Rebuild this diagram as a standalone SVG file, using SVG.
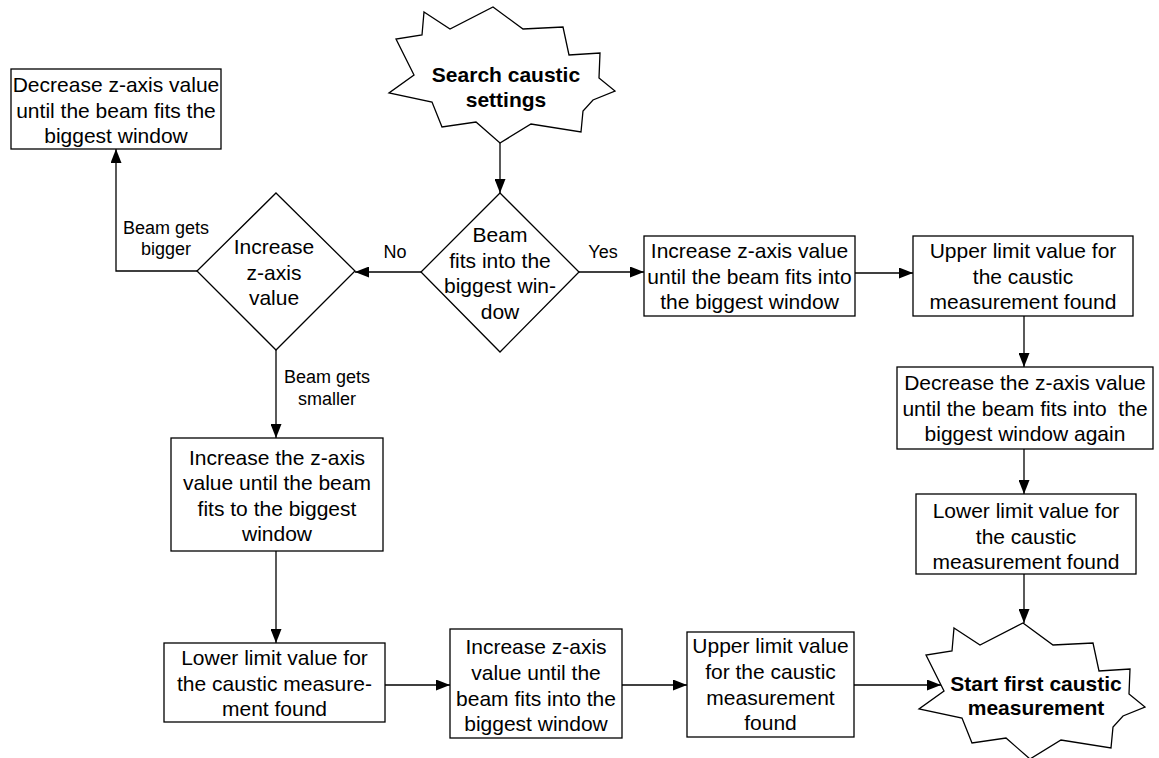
<svg xmlns="http://www.w3.org/2000/svg" xmlns:xlink="http://www.w3.org/1999/xlink" width="1159" height="758" viewBox="0 0 1159 758">
<style>
.box{fill:#fff;stroke:#000;stroke-width:1.3}
.t{font-family:"Liberation Sans",Arial,sans-serif;font-size:21px;fill:#000;text-anchor:middle}
.b{font-weight:bold}
.lbl{font-family:"Liberation Sans",Arial,sans-serif;font-size:18px;fill:#000;text-anchor:middle}
.c{fill:none;stroke:#000;stroke-width:1.3}
</style>
<defs>
<marker id="ah" markerUnits="userSpaceOnUse" markerWidth="14" markerHeight="11" refX="14" refY="5.5" orient="auto">
<path d="M0,0 L14,5.5 L0,11 z" fill="#000"/>
</marker>
<polygon id="star" points="424,12 450,29 493,7 523,29 563,27 569,55 600,53 599,78 615,91 593,100 583,111 581,132 531,124 500,143 476,122 442,127 432,102 389,93 414,75 396,39 422,35"/>
</defs>
<rect width="1159" height="758" fill="#fff"/>

<g id="connectors">
<path class="c" d="M500,143 V193" marker-end="url(#ah)"/>
<path class="c" d="M579,272 H644" marker-end="url(#ah)"/>
<path class="c" d="M855,273 H913" marker-end="url(#ah)"/>
<path class="c" d="M421,272 H355" marker-end="url(#ah)"/>
<path class="c" d="M197,271 H116 V149" marker-end="url(#ah)"/>
<path class="c" d="M276,350 V438" marker-end="url(#ah)"/>
<path class="c" d="M276,551 V643" marker-end="url(#ah)"/>
<path class="c" d="M385,685 H450" marker-end="url(#ah)"/>
<path class="c" d="M622,685 H687" marker-end="url(#ah)"/>
<path class="c" d="M854,685 H941" marker-end="url(#ah)"/>
<path class="c" d="M1024,316 V367" marker-end="url(#ah)"/>
<path class="c" d="M1024,449 V494" marker-end="url(#ah)"/>
<path class="c" d="M1024,574 V623" marker-end="url(#ah)"/>
<text class="lbl" x="395" y="258">No</text>
<text class="lbl" x="603" y="258">Yes</text>
<text class="lbl" x="166" y="234">Beam gets</text>
<text class="lbl" x="166" y="255">bigger</text>
<text class="lbl" x="327" y="383">Beam gets</text>
<text class="lbl" x="327" y="405">smaller</text>
</g>

<g id="start-search">
<use xlink:href="#star" class="box"/>
<text class="t b" x="506" y="82">Search caustic</text>
<text class="t b" x="506" y="107">settings</text>
</g>

<g id="decision-fits">
<polygon class="box" points="500,193 579,272 500,352 421,272"/>
<text class="t" x="500" y="242">Beam</text>
<text class="t" x="500" y="267.5">fits into the</text>
<text class="t" x="500" y="293">biggest win-</text>
<text class="t" x="500" y="318.5">dow</text>
</g>

<g id="decision-increase">
<polygon class="box" points="276,193 355,271 276,350 197,271"/>
<text class="t" x="274" y="254">Increase</text>
<text class="t" x="274" y="280">z-axis</text>
<text class="t" x="274" y="305">value</text>
</g>

<g id="decrease-top">
<rect class="box" x="11" y="69" width="210" height="80"/>
<text class="t" x="116" y="92">Decrease z-axis value</text>
<text class="t" x="116" y="117.5">until the beam fits the</text>
<text class="t" x="116" y="143">biggest window</text>
</g>

<g id="increase-right">
<rect class="box" x="644" y="236" width="211" height="80"/>
<text class="t" x="749.5" y="258">Increase z-axis value</text>
<text class="t" x="749.5" y="283.5">until the beam fits into</text>
<text class="t" x="749.5" y="309">the biggest window</text>
</g>

<g id="upper-right">
<rect class="box" x="913" y="236" width="220" height="80"/>
<text class="t" x="1023" y="258">Upper limit value for</text>
<text class="t" x="1023" y="283.5">the caustic</text>
<text class="t" x="1023" y="309">measurement found</text>
</g>

<g id="decrease-right">
<rect class="box" x="897" y="367" width="256" height="82"/>
<text class="t" x="1025" y="390">Decrease the z-axis value</text>
<text class="t" x="1025" y="415.5" xml:space="preserve">until the beam fits into  the</text>
<text class="t" x="1025" y="441">biggest window again</text>
</g>

<g id="lower-right">
<rect class="box" x="916" y="494" width="220" height="80"/>
<text class="t" x="1026" y="518">Lower limit value for</text>
<text class="t" x="1026" y="543.5">the caustic</text>
<text class="t" x="1026" y="569">measurement found</text>
</g>

<g id="increase-left">
<rect class="box" x="171" y="438" width="212" height="113"/>
<text class="t" x="277" y="465">Increase the z-axis</text>
<text class="t" x="277" y="490">value until the beam</text>
<text class="t" x="277" y="515.5">fits to the biggest</text>
<text class="t" x="277" y="541">window</text>
</g>

<g id="lower-left">
<rect class="box" x="164" y="643" width="221" height="79"/>
<text class="t" x="274.5" y="665">Lower limit value for</text>
<text class="t" x="274.5" y="690.5">the caustic measure-</text>
<text class="t" x="274.5" y="716">ment found</text>
</g>

<g id="increase-bottom">
<rect class="box" x="450" y="629" width="172" height="109"/>
<text class="t" x="536" y="654">Increase z-axis</text>
<text class="t" x="536" y="680">value until the</text>
<text class="t" x="536" y="705.5">beam fits into the</text>
<text class="t" x="536" y="731">biggest window</text>
</g>

<g id="upper-bottom">
<rect class="box" x="687" y="632" width="167" height="105"/>
<text class="t" x="770.5" y="653">Upper limit value</text>
<text class="t" x="770.5" y="679">for the caustic</text>
<text class="t" x="770.5" y="705">measurement</text>
<text class="t" x="770.5" y="730">found</text>
</g>

<g id="start-measurement">
<use xlink:href="#star" class="box" transform="translate(530,616)"/>
<text class="t b" x="1036" y="691">Start first caustic</text>
<text class="t b" x="1036" y="715">measurement</text>
</g>
</svg>
